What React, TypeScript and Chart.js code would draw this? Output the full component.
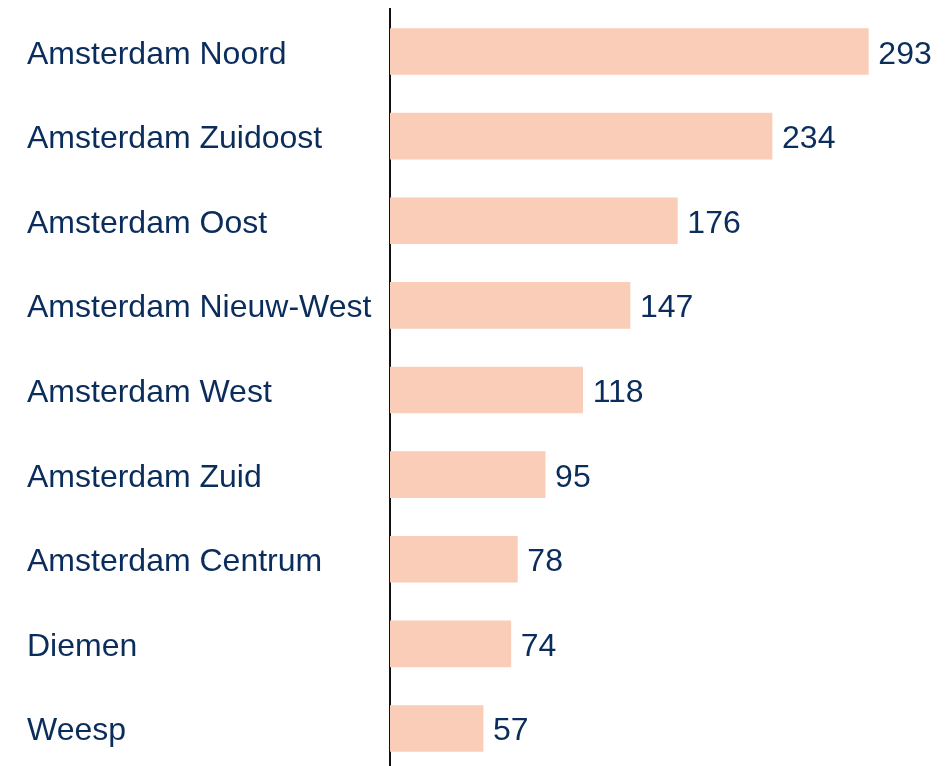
import React, { useEffect, useRef } from "react";
import { Chart, registerables } from "chart.js";

Chart.register(...registerables);

const categories = [
  "Amsterdam Noord",
  "Amsterdam Zuidoost",
  "Amsterdam Oost",
  "Amsterdam Nieuw-West",
  "Amsterdam West",
  "Amsterdam Zuid",
  "Amsterdam Centrum",
  "Diemen",
  "Weesp",
];
const values = [293, 234, 176, 147, 118, 95, 78, 74, 57];

const TEXT_COLOR = "#0B2D5C";
const BAR_COLOR = "#FACDB9";
const FONT = "'Liberation Sans', Arial, sans-serif";

const textLabels = {
  id: "textLabels",
  afterDatasetsDraw(chart: any) {
    const ctx = chart.ctx;
    const meta = chart.getDatasetMeta(0);
    ctx.save();
    ctx.fillStyle = TEXT_COLOR;
    ctx.font = `32px ${FONT}`;
    ctx.textAlign = "left";
    ctx.textBaseline = "alphabetic";
    meta.data.forEach((bar: any, i: number) => {
      ctx.fillText(categories[i], 27, bar.y + 12);
      ctx.fillText(String(values[i]), bar.x + 10, bar.y + 12);
    });
    ctx.restore();
  },
};

export default function App() {
  const ref = useRef<HTMLCanvasElement | null>(null);
  useEffect(() => {
    if (!ref.current) return;
    const chart = new Chart(ref.current, {
      type: "bar",
      data: {
        labels: categories,
        datasets: [
          {
            data: values,
            backgroundColor: BAR_COLOR,
            borderWidth: 0,
            barThickness: 46,
          },
        ],
      },
      options: {
        indexAxis: "y",
        animation: false,
        responsive: false,
        layout: { padding: { left: 27, top: 0, bottom: 0, right: 0 } },
        plugins: { legend: { display: false }, tooltip: { enabled: false } },
        scales: {
          x: { display: false, min: 0, max: 343 },
          y: {
            grid: { display: false, drawTicks: false },
            border: { display: true, color: "#111111", width: 2 },
            ticks: {
              crossAlign: "far",
              color: "rgba(0,0,0,0)",
              font: { size: 32, family: FONT },
              padding: 0,
            },
            afterFit(scale: any) {
              scale.width = 363;
            },
          },
        },
      },
      plugins: [textLabels],
    });
    return () => chart.destroy();
  }, []);
  return (
    <div style={{ position: "absolute", left: 0, top: 0, width: 950, height: 766, overflow: "hidden", background: "#fff" }}>
      <canvas
        ref={ref}
        width={950}
        height={800}
        style={{ position: "absolute", left: 0, top: -9.8, width: 950, height: 800, display: "block" }}
      />
    </div>
  );
}
